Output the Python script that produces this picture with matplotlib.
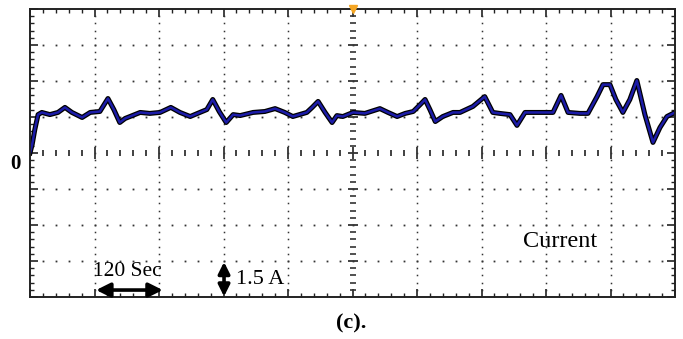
import numpy as np
import matplotlib.pyplot as plt

# time (s) and current (A)
time_s = [0, 4, 9, 15, 22, 37, 52, 65, 78, 97, 112, 130, 145, 156, 167, 177, 186,
          205, 223, 242, 262, 279, 298, 316, 329, 340, 352, 365, 378, 391, 415,
          437, 456, 474, 489, 515, 525, 536, 549, 562, 571, 582, 601, 623, 651,
          666, 683, 698, 713, 726, 735, 744, 754, 768, 787, 800, 824, 846, 861,
          874, 893, 906, 921, 949, 973, 988, 1001, 1023, 1038, 1055, 1066, 1079,
          1090, 1103, 1116, 1129, 1144, 1159, 1172, 1185, 1200]
current_a = [0.0, 0.35, 0.98, 1.60, 1.69, 1.60, 1.69, 1.90, 1.69, 1.48, 1.69, 1.73,
             2.27, 1.81, 1.27, 1.44, 1.52, 1.69, 1.65, 1.69, 1.90, 1.69, 1.52, 1.69,
             1.81, 2.23, 1.73, 1.27, 1.60, 1.56, 1.69, 1.73, 1.85, 1.69, 1.52, 1.69,
             1.90, 2.15, 1.69, 1.27, 1.56, 1.52, 1.69, 1.65, 1.85, 1.69, 1.52, 1.65,
             1.73, 2.02, 2.23, 1.81, 1.31, 1.52, 1.69, 1.69, 1.94, 2.35, 1.69, 1.65,
             1.60, 1.15, 1.69, 1.69, 1.69, 2.40, 1.69, 1.65, 1.65, 2.35, 2.85, 2.85,
             2.23, 1.69, 2.23, 3.02, 1.60, 0.44, 1.06, 1.52, 1.69]

sec_per_div = 120
amp_per_div = 1.5

fig = plt.figure(figsize=(6.83, 3.39), dpi=100)
ax = fig.add_axes([30/683, 42/339, 645/683, 288/339])
ax.set_xlim(0, 10*sec_per_div)
ax.set_ylim(-4*amp_per_div, 4*amp_per_div)

# dotted graticule
xminor = np.arange(0, 1201, 24)[1:-1]
yminor = np.arange(-6, 6.01, 0.3)[1:-1]
for k in range(1, 10):
    if k == 5:
        continue
    ax.plot(np.full(len(yminor), k*sec_per_div), yminor, ls='none', marker='s',
            ms=1.1, color='#333333', mew=0)
for k in [-3, -2, -1, 1, 2, 3]:
    ax.plot(xminor, np.full(len(xminor), k*amp_per_div), ls='none', marker='s',
            ms=1.3, color='#333333', mew=0)

# centre axes with dashes
is_major_y = np.isclose(np.mod(yminor + 6, 1.5), 0) | np.isclose(np.mod(yminor + 6, 1.5), 1.5)
ax.plot(np.full(is_major_y.sum(), 600), yminor[is_major_y], ls='none', marker='_',
        ms=7, mew=1.3, color='#333333')
ax.plot(np.full((~is_major_y).sum(), 600), yminor[~is_major_y], ls='none', marker='_',
        ms=4, mew=1.2, color='#333333')
is_major_x = np.mod(xminor, 120) == 0
ax.plot(xminor[is_major_x], np.zeros(is_major_x.sum()), ls='none', marker='|',
        ms=8, mew=1.3, color='#333333')
ax.plot(xminor[~is_major_x], np.zeros((~is_major_x).sum()), ls='none', marker='|',
        ms=4, mew=1.3, color='#333333')

# trace
ax.plot(time_s, current_a, color='black', lw=3.6, solid_joinstyle='round')
ax.plot(time_s, current_a, color='#1c1ca8', lw=1.8, solid_joinstyle='round')

# border ticks
ax.set_xticks(np.arange(0, 1201, 120))
ax.set_xticks(np.arange(0, 1201, 24), minor=True)
ax.set_yticks(np.arange(-6, 6.01, 1.5))
ax.set_yticks(np.arange(-6, 6.01, 0.3), minor=True)
ax.tick_params(which='both', direction='in', top=True, right=True,
               labelbottom=False, labelleft=False, color='#222222')
ax.tick_params(which='major', length=6, width=1.2)
ax.tick_params(which='minor', length=3, width=1.0)
for s in ax.spines.values():
    s.set_linewidth(1.4)
    s.set_color('#222222')

# trigger marker
ax.plot([600], [6], marker='v', ms=6, color='#f5a623', clip_on=False, zorder=5)

serif = ['Liberation Serif', 'DejaVu Serif']
fig.text(15/683, 1 - 164/339, '0', family=serif, fontweight='bold', fontsize=15,
         ha='center', va='center')
ax.text(986, -3.68, 'Current', family=serif, fontsize=17.5, ha='center', va='center')
ax.text(181, -4.92, '120 Sec', family=serif, fontsize=15.5, ha='center', va='center')
ax.text(383, -5.27, '1.5 A', family=serif, fontsize=16, ha='left', va='center')
ax.annotate('', xy=(123, -5.71), xytext=(247, -5.71),
            arrowprops=dict(arrowstyle='<|-|>', color='black', lw=2.6,
                            mutation_scale=21, shrinkA=0, shrinkB=0))
ax.annotate('', xy=(361, -4.54), xytext=(361, -5.98),
            arrowprops=dict(arrowstyle='<|-|>', color='black', lw=2.6,
                            mutation_scale=17, shrinkA=0, shrinkB=0))
fig.text(351/683, 1 - 323/339, '(c).', family=serif, fontweight='bold', fontsize=16,
         ha='center', va='center')

fig.savefig('out.png', dpi=100)
